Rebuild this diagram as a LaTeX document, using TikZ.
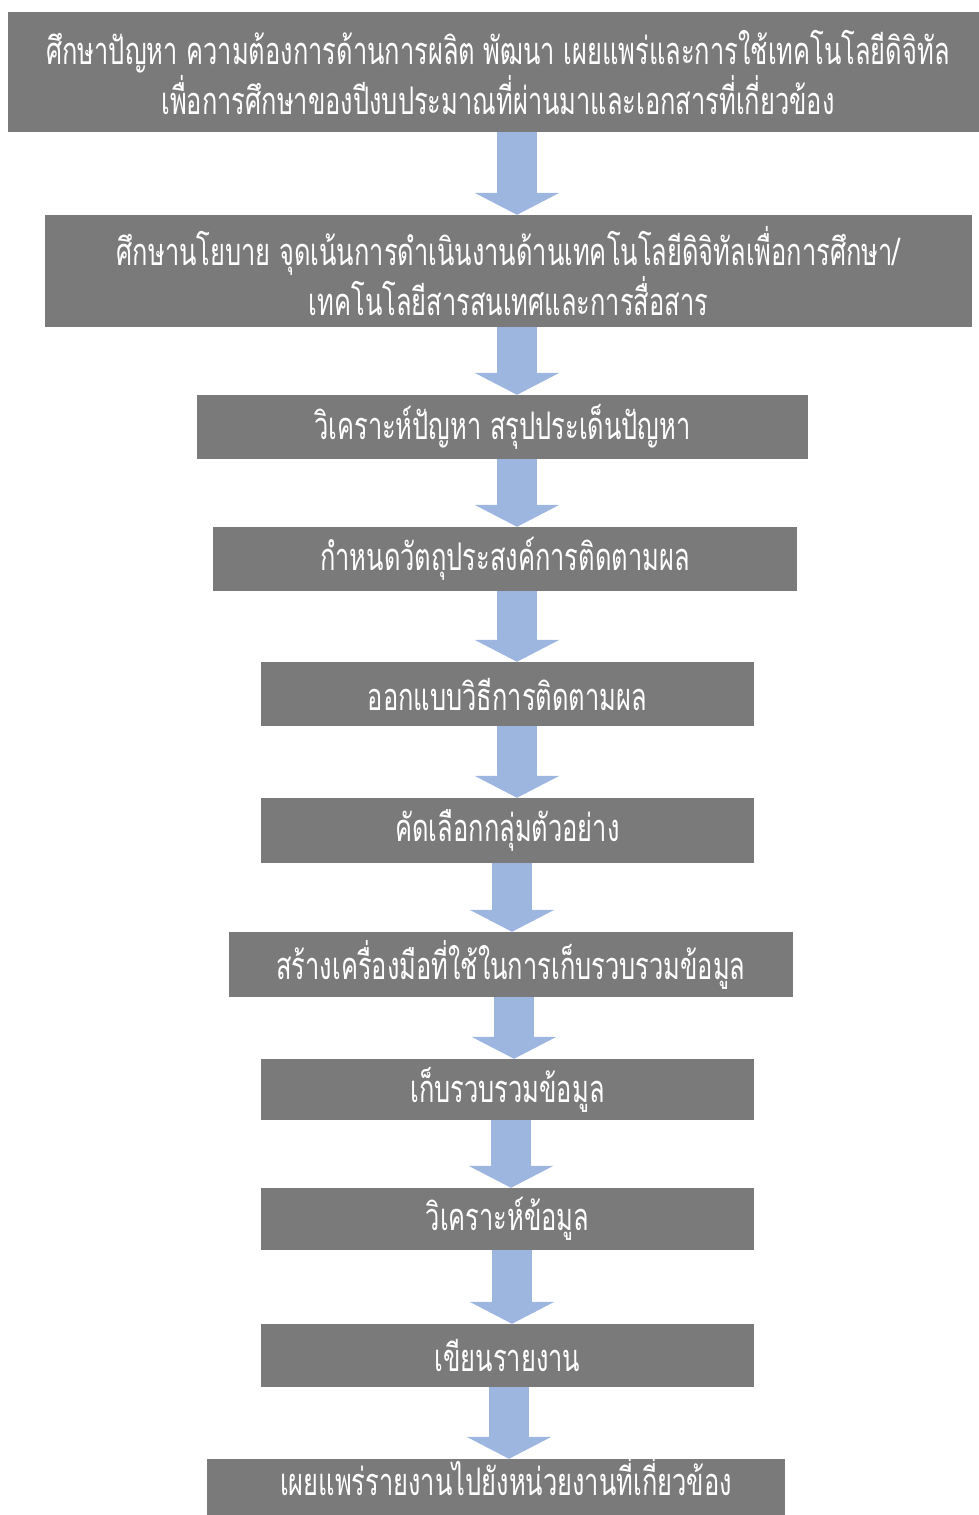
\documentclass[tikz,border=0pt]{standalone}
\usepackage{fontspec}
\newfontfamily\thaifont[Script=Thai,FakeStretch=0.67]{Loma}
\usetikzlibrary{arrows.meta}
\definecolor{boxgray}{HTML}{7A7A7A}
\definecolor{arrowblue}{HTML}{9DB6E0}
\tikzset{
  stepbox/.style={fill=boxgray, text=white, inner sep=0pt, align=center,
    font=\thaifont\fontsize{38}{50}\selectfont},
  flow/.style={draw=arrowblue, line width=40pt, -{Triangle[width=84pt,length=22pt,fill=arrowblue]}}
}
\begin{document}
\begin{tikzpicture}[x=1pt,y=1pt]
\path[use as bounding box] (0,0) rectangle (979,-1515);
% boxes
\node[stepbox, minimum width=971, minimum height=120] (b1) at (493.5,-72) {\hspace*{9pt}ศึกษาปัญหา ความต้องการด้านการผลิต พัฒนา เผยแพร่และการใช้เทคโนโลยีดิจิทัล\\\hspace*{9pt}เพื่อการศึกษาของปีงบประมาณที่ผ่านมาและเอกสารที่เกี่ยวข้อง};
\node[stepbox, minimum width=927, minimum height=112] (b2) at (508.5,-271) {ศึกษานโยบาย จุดเน้นการดำเนินงานด้านเทคโนโลยีดิจิทัลเพื่อการศึกษา/\\เทคโนโลยีสารสนเทศและการสื่อสาร};
\node[stepbox, minimum width=611, minimum height=64] (b3) at (502.5,-427) {วิเคราะห์ปัญหา สรุปประเด็นปัญหา};
\node[stepbox, minimum width=584, minimum height=64] (b4) at (505,-559) {กำหนดวัตถุประสงค์การติดตามผล};
\node[stepbox, minimum width=493, minimum height=64] (b5) at (507.5,-694) {ออกแบบวิธีการติดตามผล};
\node[stepbox, minimum width=493, minimum height=65] (b6) at (507.5,-830.5) {คัดเลือกกลุ่มตัวอย่าง};
\node[stepbox, minimum width=564, minimum height=65] (b7) at (511,-964.5) {สร้างเครื่องมือที่ใช้ในการเก็บรวบรวมข้อมูล};
\node[stepbox, minimum width=493, minimum height=61] (b8) at (507.5,-1089.5) {เก็บรวบรวมข้อมูล};
\node[stepbox, minimum width=493, minimum height=62] (b9) at (507.5,-1219) {วิเคราะห์ข้อมูล};
\node[stepbox, minimum width=493, minimum height=63] (b10) at (507.5,-1355.5) {เขียนรายงาน};
\node[stepbox, minimum width=578, minimum height=56, text height=26pt, text depth=10pt] (b11) at (496,-1487) {\hspace*{20pt}เผยแพร่รายงานไปยังหน่วยงานที่เกี่ยวข้อง};
% arrow axes
\coordinate (a1) at (517,0);
\coordinate (a2) at (517,0);
\coordinate (a3) at (517,0);
\coordinate (a4) at (517,0);
\coordinate (a5) at (517,0);
\coordinate (a6) at (512,0);
\coordinate (a7) at (514,0);
\coordinate (a8) at (511,0);
\coordinate (a9) at (512,0);
\coordinate (a10) at (509,0);
\draw[flow] (b1.south -| a1) -- (b2.north -| a1);
\draw[flow] (b2.south -| a2) -- (b3.north -| a2);
\draw[flow] (b3.south -| a3) -- (b4.north -| a3);
\draw[flow] (b4.south -| a4) -- (b5.north -| a4);
\draw[flow] (b5.south -| a5) -- (b6.north -| a5);
\draw[flow] (b6.south -| a6) -- (b7.north -| a6);
\draw[flow] (b7.south -| a7) -- (b8.north -| a7);
\draw[flow] (b8.south -| a8) -- (b9.north -| a8);
\draw[flow] (b9.south -| a9) -- (b10.north -| a9);
\draw[flow] (b10.south -| a10) -- (b11.north -| a10);
\end{tikzpicture}
\end{document}
